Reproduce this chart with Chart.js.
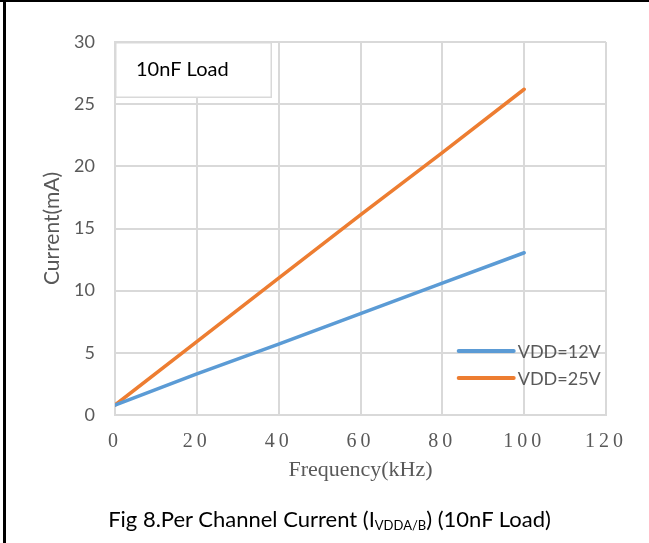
<!DOCTYPE html>
<html>
<head>
<meta charset="utf-8">
<script src="https://cdn.jsdelivr.net/npm/chart.js@4.4.1/dist/chart.umd.min.js"></script>
<style>
  html, body { margin: 0; padding: 0; background: #fff; }
  #wrap { position: relative; width: 649px; height: 543px; overflow: hidden; }
  #chartBox { position: absolute; left: 0; top: 0; width: 649px; height: 543px; }
  #frameTop { position: absolute; left: 0; top: 0; width: 649px; height: 2px; background: #000; }
  #frameLeft { position: absolute; left: 3px; top: 0; width: 3px; height: 543px; background: #000; }
  #caption {
    position: absolute; left: 0; width: 659px; top: 505px; text-align: center;
    font-family: Lato, "Noto Sans", sans-serif; font-size: 22px; color: #000; white-space: nowrap;
  }
  #caption sub { font-size: 13px; vertical-align: -3px; }
</style>
</head>
<body>
<div id="wrap">
  <div id="chartBox"><canvas id="chart"></canvas></div>
  <div id="frameTop"></div>
  <div id="frameLeft"></div>
  <div id="caption">Fig 8.Per Channel Current (I<sub>VDDA/B</sub>) (10nF Load)</div>
</div>
<script>
// Supply current per channel versus switching frequency, 10nF load
const freqKHz = [0, 20, 40, 60, 80, 100];
const currentVdd12 = [0.8, 3.3, 5.7, 8.15, 10.6, 13.05];
const currentVdd25 = [0.8, 5.9, 11.0, 16.1, 21.1, 26.2];
const seriesLabels = ['VDD=12V', 'VDD=25V'];
const xTickValues = [0, 20, 40, 60, 80, 100, 120];
const yTickValues = [0, 5, 10, 15, 20, 25, 30];
const noteText = '10nF Load';

const toPoints = (ys) => freqKHz.map((f, i) => ({ x: f, y: ys[i] }));

const GRID = '#d9d9d9';
const TEXT_GRAY = '#595959';
const SANS = 'Lato, "Noto Sans", sans-serif';
const SERIF = '"Liberation Serif", "DejaVu Serif", serif';

// Widely spaced serif digits on the frequency axis
const spacedXLabels = {
  id: 'spacedXLabels',
  beforeDraw(chart) {
    const sx = chart.scales.x;
    if (sx && !sx._spaced) {
      const orig = sx.drawLabels.bind(sx);
      sx.drawLabels = function (area) {
        const ctx = this.ctx;
        ctx.save();
        ctx.letterSpacing = '4px';
        orig(area);
        ctx.restore();
      };
      sx._spaced = true;
    }
  }
};

// White note box anchored at the top-left corner of the plot
const noteBox = {
  id: 'noteBox',
  beforeDatasetsDraw(chart) {
    const { ctx, scales } = chart;
    const left = scales.x.getPixelForValue(0);
    const top = scales.y.getPixelForValue(30);
    const w = 157, h = 56;
    ctx.save();
    ctx.fillStyle = '#fff';
    ctx.fillRect(left, top, w, h);
    ctx.strokeStyle = GRID;
    ctx.lineWidth = 1.5;
    ctx.strokeRect(left + 0.75, top + 0.75, w - 1.5, h - 1.5);
    ctx.fillStyle = '#000';
    ctx.font = '20px ' + SANS;
    ctx.textBaseline = 'middle';
    ctx.textAlign = 'left';
    ctx.fillText(noteText, left + 21, top + 28);
    ctx.restore();
  }
};

// Legend drawn inside the plot, lower right
const innerLegend = {
  id: 'innerLegend',
  afterDatasetsDraw(chart) {
    const { ctx, scales } = chart;
    const x0 = scales.x.getPixelForValue(84);
    const len = 55;
    const y0 = scales.y.getPixelForValue(5.15);
    const gap = 27;
    ctx.save();
    ctx.font = '18px ' + SANS;
    ctx.textBaseline = 'middle';
    ctx.textAlign = 'left';
    chart.data.datasets.forEach((ds, i) => {
      const y = y0 + i * gap;
      ctx.strokeStyle = ds.borderColor;
      ctx.lineWidth = 4;
      ctx.lineCap = 'round';
      ctx.beginPath();
      ctx.moveTo(x0, y);
      ctx.lineTo(x0 + len, y);
      ctx.stroke();
      ctx.fillStyle = TEXT_GRAY;
      ctx.fillText(ds.label, x0 + len + 4, y + 1);
    });
    ctx.restore();
  }
};

new Chart(document.getElementById('chart'), {
  type: 'line',
  data: {
    datasets: [
      { label: seriesLabels[0], data: toPoints(currentVdd12), borderColor: '#5b9bd5',
        borderWidth: 3.5, pointRadius: 0, borderCapStyle: 'round', tension: 0 },
      { label: seriesLabels[1], data: toPoints(currentVdd25), borderColor: '#ed7d31',
        borderWidth: 3.5, pointRadius: 0, borderCapStyle: 'round', tension: 0 }
    ]
  },
  options: {
    responsive: true,
    maintainAspectRatio: false,
    animation: false,
    layout: { padding: { left: 0, top: 42, right: 43, bottom: 60 } },
    plugins: { legend: { display: false }, tooltip: { enabled: false } },
    scales: {
      x: {
        type: 'linear', min: 0, max: 120,
        afterBuildTicks: (s) => { s.ticks = xTickValues.map(v => ({ value: v })); },
        afterFit: (s) => { s.height = 68; },
        grid: { color: GRID, lineWidth: 2, drawTicks: false },
        border: { color: GRID, width: 2 },
        ticks: { color: TEXT_GRAY, padding: 15, font: { family: SERIF, size: 20 } },
        title: { display: true, text: 'Frequency(kHz)', color: TEXT_GRAY,
                 font: { family: SERIF, size: 22 }, padding: { top: 0, bottom: 0 } }
      },
      y: {
        min: 0, max: 30,
        afterBuildTicks: (s) => { s.ticks = yTickValues.map(v => ({ value: v })); },
        afterFit: (s) => { s.width = 115; },
        grid: { color: GRID, lineWidth: 2, drawTicks: false },
        border: { color: GRID, width: 2 },
        ticks: { color: TEXT_GRAY, padding: 20, font: { family: SANS, size: 18 } },
        title: { display: true, text: 'Current(mA)', color: TEXT_GRAY,
                 font: { family: SANS, size: 21 }, padding: { top: 40, bottom: 0 } }
      }
    }
  },
  plugins: [spacedXLabels, noteBox, innerLegend]
});
</script>
</body>
</html>
